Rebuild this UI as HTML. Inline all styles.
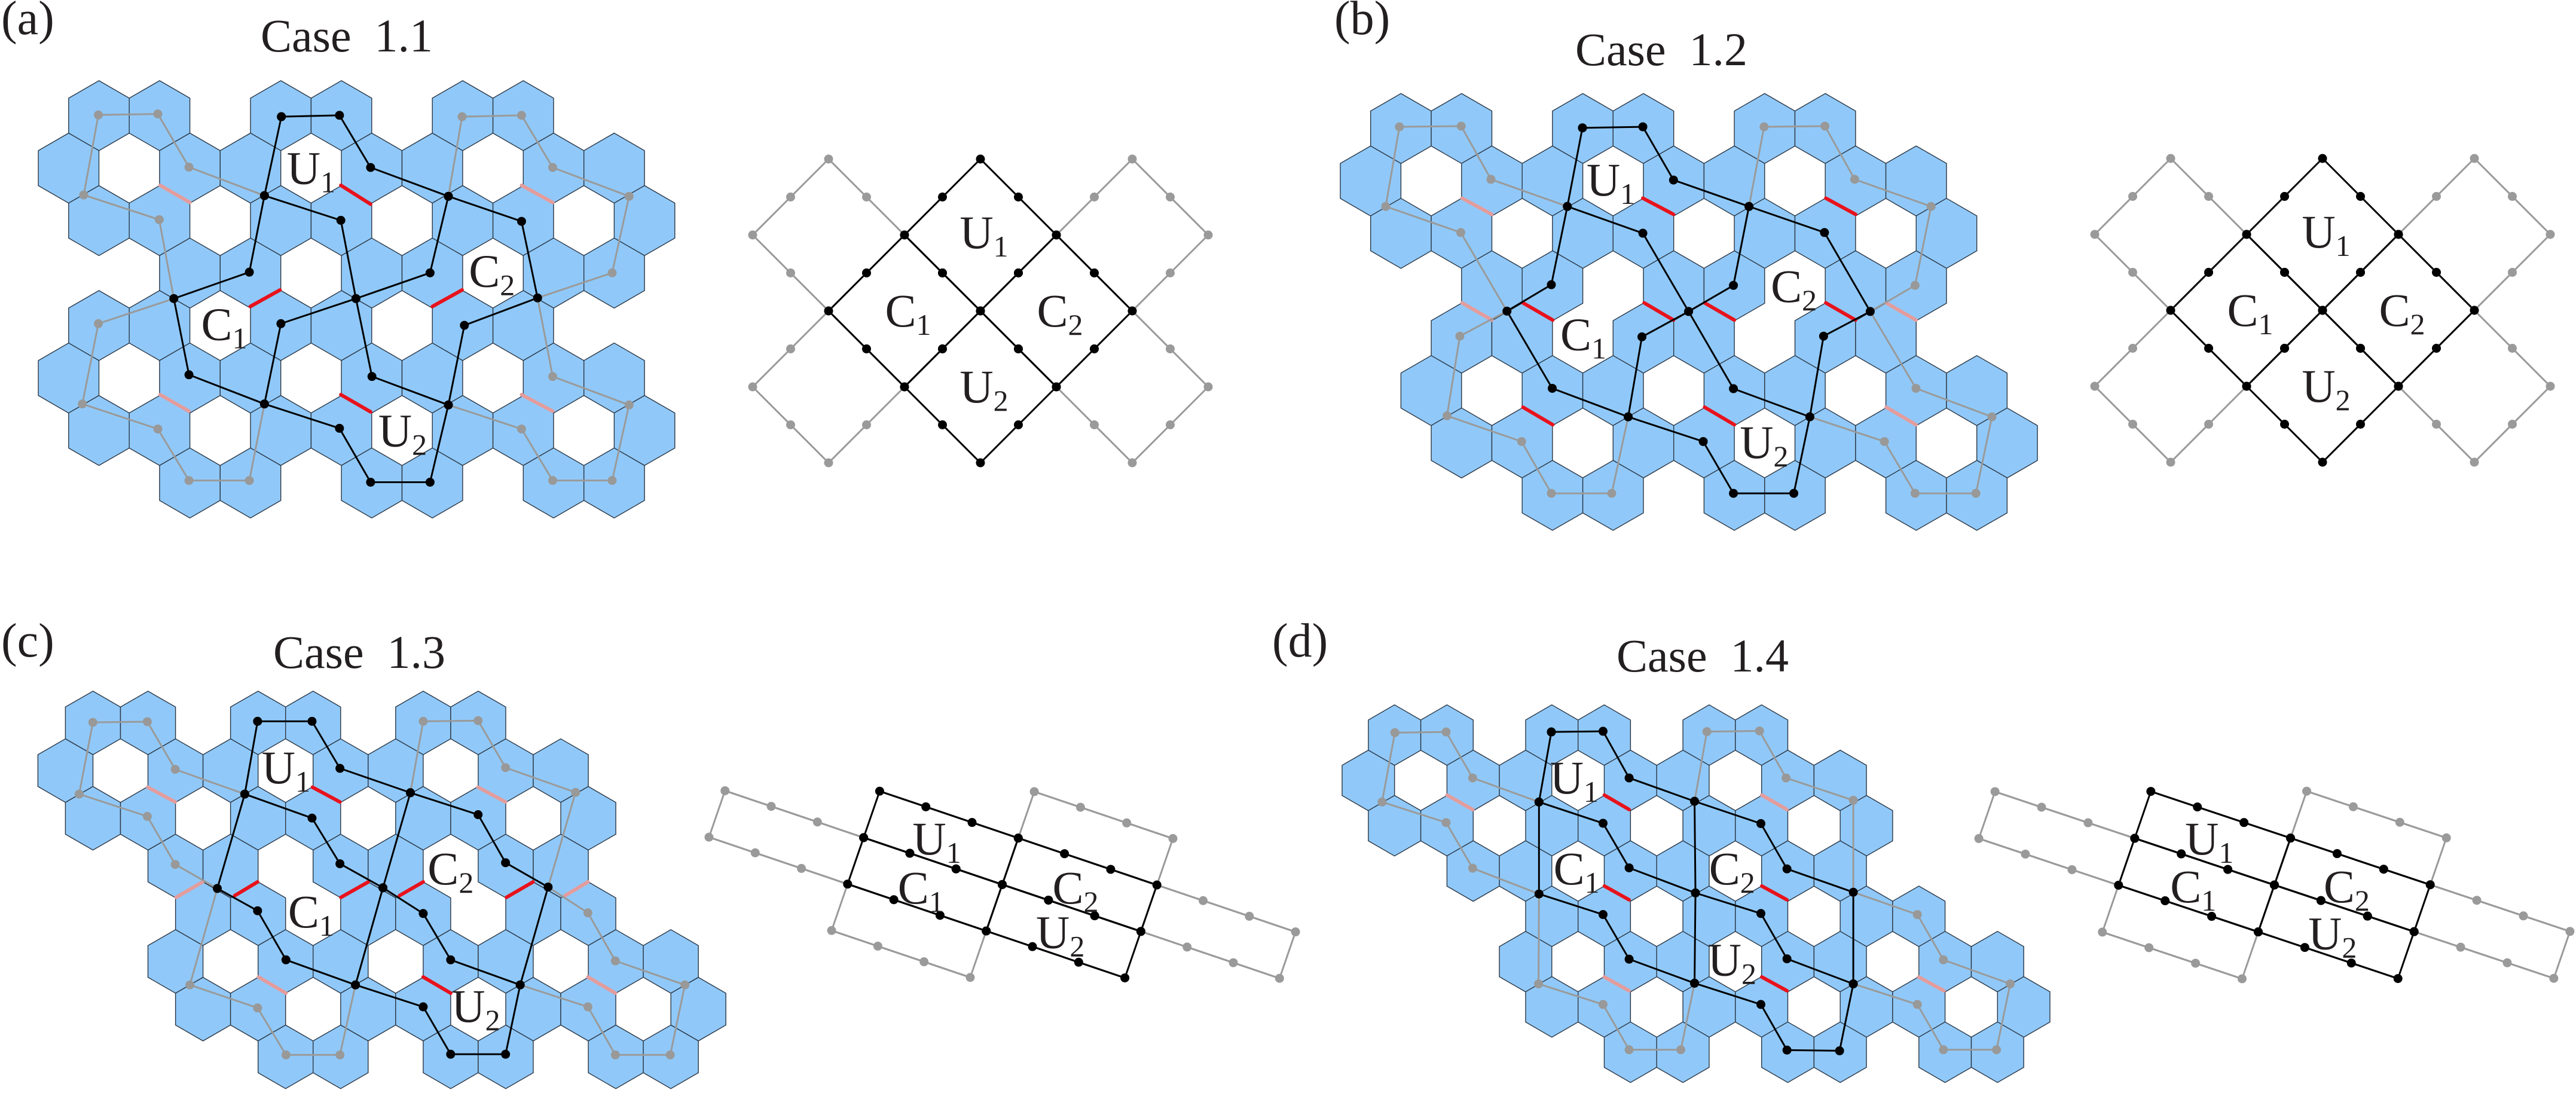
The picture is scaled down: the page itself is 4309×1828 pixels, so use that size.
<!DOCTYPE html>
<html><head><meta charset="utf-8"><style>
html,body{margin:0;padding:0;background:#fff;}
svg{display:block;font-family:"Liberation Serif","Times New Roman",Times,"DejaVu Serif",serif;}
svg text{font-family:"Liberation Serif","Times New Roman",Times,"DejaVu Serif",serif;fill:#231f20;}
</style></head><body>
<svg id="s" xmlns="http://www.w3.org/2000/svg" width="4309" height="1828" viewBox="0 0 4309 1828">
<rect width="4309" height="1828" fill="#fff"/>
<text x="2" y="57" font-size="80">(a)</text>
<text x="2232" y="57" font-size="80">(b)</text>
<text x="2" y="1098" font-size="80">(c)</text>
<text x="2128" y="1098" font-size="80">(d)</text>
<text x="580" y="86" font-size="78" text-anchor="middle" xml:space="preserve">Case  1.1</text>
<text x="2779" y="109" font-size="78" text-anchor="middle" xml:space="preserve">Case  1.2</text>
<text x="601" y="1117" font-size="78" text-anchor="middle" xml:space="preserve">Case  1.3</text>
<text x="2848" y="1123" font-size="78" text-anchor="middle" xml:space="preserve">Case  1.4</text>
</svg>
<script>
(function(){
var NS="http://www.w3.org/2000/svg";
var svg=document.getElementById('s');
var layers={};
['hex','red','gray','black','gdot','bdot','lab'].forEach(function(k){var g=document.createElementNS(NS,'g');svg.appendChild(g);layers[k]=g;});
function el(layer,tag,attrs){var e=document.createElementNS(NS,tag);for(var k in attrs)e.setAttribute(k,attrs[k]);layers[layer].appendChild(e);return e;}
function line(layer,a,b,col,w){el(layer,'line',{x1:a[0],y1:a[1],x2:b[0],y2:b[1],stroke:col,'stroke-width':w,'stroke-linecap':'round'});}
function dot(layer,p,col,r){el(layer,'circle',{cx:p[0],cy:p[1],r:r,fill:col});}
function label(p,L,n){var t=el('lab','text',{x:p[0],y:p[1]+26,'font-size':78,'text-anchor':'middle'});t.appendChild(document.createTextNode(L));var ts=document.createElementNS(NS,'tspan');ts.setAttribute('font-size','50');ts.setAttribute('dy','14');ts.appendChild(document.createTextNode(n));t.appendChild(ts);}
var rows=[[0,"BBxBBxBB",0],[0,"BWBBWBBWBB",0],[0,"BBWBBWBBWB",0],[2,"BBWBBWBB",0],[0,"BBWBBWBB",1],[0,"BWBBWBBWBB",1],[0,"BBWBBWBBWB",1],[2,"BBxBBxBB",1]];
function panel(P){
  var fx=1568/1200, fy=1568/900;
  function cv(p){return [P.ox+p[0]/fx, P.oy+p[1]/fy];}
  var W=P.Wz/fx, r=W/Math.sqrt(3), H=P.Hz/fy;
  rows.forEach(function(R,ri){
    var k0=R[0]+(R[2]?P.s:0), str=R[1];
    for(var i=0;i<str.length;i++){
      if(str[i]!='B')continue;
      var k=k0+i;
      var cx=P.ox+(P.x0+k*P.Wz+P.Wz/2)/fx-(ri%2?W/2:0);
      var cy=P.oy+(P.y0)/fy+ri*H+r;
      var pts=[[cx,cy-r],[cx+W/2,cy-r/2],[cx+W/2,cy+r/2],[cx,cy+r],[cx-W/2,cy+r/2],[cx-W/2,cy-r/2]].map(function(q){return q[0].toFixed(1)+','+q[1].toFixed(1);}).join(' ');
      el('hex','polygon',{points:pts,fill:'#90c9f9',stroke:'#2b3644','stroke-width':1.4});
    }
  });
  P.red.forEach(function(e){line('red',cv([e[0],e[1]]),cv([e[2],e[3]]),'#e8121c',6);});
  P.pink.forEach(function(e){line('red',cv([e[0],e[1]]),cv([e[2],e[3]]),'#e49c9c',6);});
  P.gray.forEach(function(path){for(var i=0;i<path.length;i++){var p=cv(path[i]);if(i)line('gray',cv(path[i-1]),p,'#9a9a9a',3);dot('gdot',p,'#999',7.5);}});
  P.black.forEach(function(path){for(var i=0;i<path.length;i++){var p=cv(path[i]);if(i)line('black',cv(path[i-1]),p,'#000',3);dot('bdot',p,'#000',7.5);}});
  P.labs.forEach(function(l){label(cv([l[0],l[1]]),l[2],l[3]);});
}
panel({ox:0,oy:0,x0:150,Wz:132.5,y0:235,Hz:152.9,s:0,
black:[[[615,340],[742,336],[810,488],[980,572],[1140,645],[1175,868],[1015,948],[980,1180],[940,1405],[810,1405],[742,1248],[578,1177],[413,1092],[380,870],[545,793],[578,570],[615,340]],[[578,570],[745,642],[778,870],[813,1097],[980,1180]],[[980,572],[940,795],[778,870],[614,943],[578,1177]]],
gray:[[[578,570],[413,487],[345,332],[215,335],[183,568],[348,640],[380,870]],[[380,870],[215,943],[180,1177],[345,1250],[413,1400],[545,1400],[578,1177]],[[980,572],[1010,340],[1140,336],[1208,488],[1375,572],[1338,795],[1175,868]],[[1175,868],[1208,1097],[1375,1180],[1338,1400],[1208,1400],[1140,1250],[980,1180]]],
red:[[745,540,810,595],[547,893,612,845],[945,893,1010,845],[745,1150,810,1200]],
pink:[[350,540,415,590],[1140,540,1208,590],[350,1150,413,1198],[1140,1150,1208,1198]],
labs:[[680,490,'U','1'],[1075,790,'C','2'],[490,945,'C','1'],[880,1255,'U','2']]});
panel({ox:2220,oy:60,x0:95,Wz:132.5,y0:168,Hz:152.7,s:1,
black:[[[558,268],[690,265],[757,420],[922,497],[1087,573],[1187,803],[1085,875],[1055,1110],[1020,1333],[888,1333],[822,1182],[658,1110],[492,1027],[393,802],[490,725],[525,497],[558,268]],[[525,497],[690,575],[790,803],[888,1028],[1055,1110]],[[922,497],[888,727],[790,803],[688,877],[658,1110]]],
gray:[[[525,497],[358,418],[293,263],[158,265],[128,497],[292,573],[393,802]],[[393,802],[290,875],[262,1107],[425,1182],[490,1333],[622,1333],[658,1110]],[[922,497],[955,265],[1088,263],[1153,418],[1320,497],[1285,727],[1187,803]],[[1187,803],[1287,1027],[1453,1110],[1418,1333],[1285,1333],[1218,1182],[1055,1110]]],
red:[[690,473,757,520],[428,778,493,828],[693,778,757,828],[825,778,890,828],[1090,778,1155,828],[1090,473,1155,520],[825,1082,890,1133],[428,1082,493,1133]],
pink:[[295,473,360,520],[295,778,360,828],[1222,778,1287,828],[1222,1082,1287,1133]],
labs:[[620,420,'U','1'],[1020,730,'C','2'],[560,870,'C','1'],[955,1185,'U','2']]});
panel({ox:0,oy:928,x0:143,Wz:120.3,y0:397,Hz:139,s:2,
black:[[[563,485],[682,485],[743,622],[897,693],[1045,757],[1105,897],[1198,968],[1137,1253],[1105,1455],[985,1455],[925,1317],[777,1253],[625,1180],[563,1037],[475,972],[535,697],[563,485]],[[535,697],[682,767],[743,900],[837,970],[925,1045],[985,1180],[1137,1253]],[[897,693],[837,970],[777,1253]]],
gray:[[[535,697],[383,625],[322,486],[203,488],[173,697],[322,762],[383,902],[475,972]],[[475,972],[415,1253],[563,1320],[625,1457],[743,1457],[777,1253]],[[897,693],[925,485],[1045,483],[1105,620],[1258,692],[1198,968]],[[1198,968],[1285,1043],[1345,1183],[1497,1253],[1465,1457],[1345,1457],[1285,1317],[1137,1253]]],
red:[[683,677,743,720],[513,993,563,953],[745,998,805,953],[873,993,925,953],[1107,998,1165,953],[925,1230,985,1277]],
pink:[[323,677,383,720],[1045,677,1105,720],[385,998,443,953],[1235,993,1285,953],[565,1230,625,1277],[1285,1230,1345,1277]],
labs:[[625,620,'U','1'],[985,915,'C','2'],[680,1040,'C','1'],[1040,1315,'U','2']]});
panel({ox:2220,oy:928,x0:90,Wz:114.6,y0:437,Hz:132,s:3,
black:[[[490,516],[603,514],[660,650],[803,718],[948,783],[1005,915],[1150,983],[1150,1250],[1120,1445],[1005,1443],[948,1310],[803,1248],[660,1178],[603,1048],[463,988],[463,720],[490,516]],[[463,720],[603,782],[660,912],[805,985],[948,1045],[1005,1177],[1150,1250]],[[803,718],[805,985],[803,1248]]],
gray:[[[463,720],[318,650],[260,516],[148,518],[120,720],[260,780],[318,913],[463,988]],[[463,988],[462,1250],[603,1310],[660,1442],[773,1442],[803,1248]],[[803,718],[830,515],[945,513],[1003,650],[1150,715],[1150,983]],[[1150,983],[1290,1048],[1347,1180],[1493,1250],[1463,1442],[1347,1442],[1290,1310],[1150,1250]]],
red:[[606,700,660,742],[606,965,660,1005],[950,965,1005,1005],[950,1230,1005,1270]],
pink:[[262,700,318,742],[950,700,1005,742],[606,1230,660,1270],[1293,1230,1348,1270]],
labs:[[540,650,'U','1'],[545,915,'C','1'],[885,915,'C','2'],[885,1180,'U','2']]});

function diamonds(cx,cy,h){
  function dm(ccx,ccy,black){
    var v=[[ccx,ccy-h],[ccx+h,ccy],[ccx,ccy+h],[ccx-h,ccy]];
    var col=black?'#000':'#9a9a9a', lay=black?'black':'gray', dl=black?'bdot':'gdot';
    for(var i=0;i<4;i++){var a=v[i],b=v[(i+1)%4];line(lay,a,b,col,3);dot(dl,a,col,7.5);dot(dl,[(a[0]+b[0])/2,(a[1]+b[1])/2],col,7.5);}
  }
  [[-2,-1],[2,-1],[-2,1],[2,1]].forEach(function(q){dm(cx+q[0]*h,cy+q[1]*h,false);});
  [[0,-1],[0,1],[-1,0],[1,0]].forEach(function(q){dm(cx+q[0]*h,cy+q[1]*h,true);});
  label([cx+6,cy-h-4],'U','1');label([cx-h+6,cy],'C','1');label([cx+h+6,cy],'C','2');label([cx+6,cy+h],'U','2');
}
diamonds(1640,520,127);
diamonds(3885,519,127);
function para(ox,oy,fx,fy,O,a,b,labs){
  function cv(p){return [ox+p[0]/fx, oy+p[1]/fy];}
  function V(i,j){return cv([O[0]+i*a[0]+j*b[0],O[1]+i*a[1]+j*b[1]]);}
  function cell(i,j,black){
    var col=black?'#000':'#9a9a9a', lay=black?'black':'gray', dl=black?'bdot':'gdot';
    var p00=V(i,j),p10=V(i+1,j),p01=V(i,j+1),p11=V(i+1,j+1);
    [[p00,p10],[p01,p11]].forEach(function(e){line(lay,e[0],e[1],col,3.2);
      for(var t=1;t<=2;t++)dot(dl,[e[0][0]+(e[1][0]-e[0][0])*t/3,e[0][1]+(e[1][1]-e[0][1])*t/3],col,7.5);});
    line(lay,p00,p01,col,3);line(lay,p10,p11,col,3);
    [p00,p10,p01,p11].forEach(function(p){dot(dl,p,col,7.5);});
  }
  cell(-1,1,false);cell(1,-1,false);cell(0,2,false);cell(2,0,false);
  cell(0,0,true);cell(1,0,true);cell(0,1,true);cell(1,1,true);
  labs.forEach(function(l){label(cv([l[0],l[1]]),l[2],l[3]);});
}
para(1150,1200,1568/1200,1568/600,[420,322],[303,205],[-35,203],[[545,530,'U','1'],[510,745,'C','1'],[848,745,'C','2'],[815,940,'U','2']]);
para(3250,1200,1568/1059,1568/600,[515,323],[346,204],[-40,205],[[660,530,'U','1'],[620,740,'C','1'],[1000,740,'C','2'],[965,945,'U','2']]);
})();
</script>
</body></html>
